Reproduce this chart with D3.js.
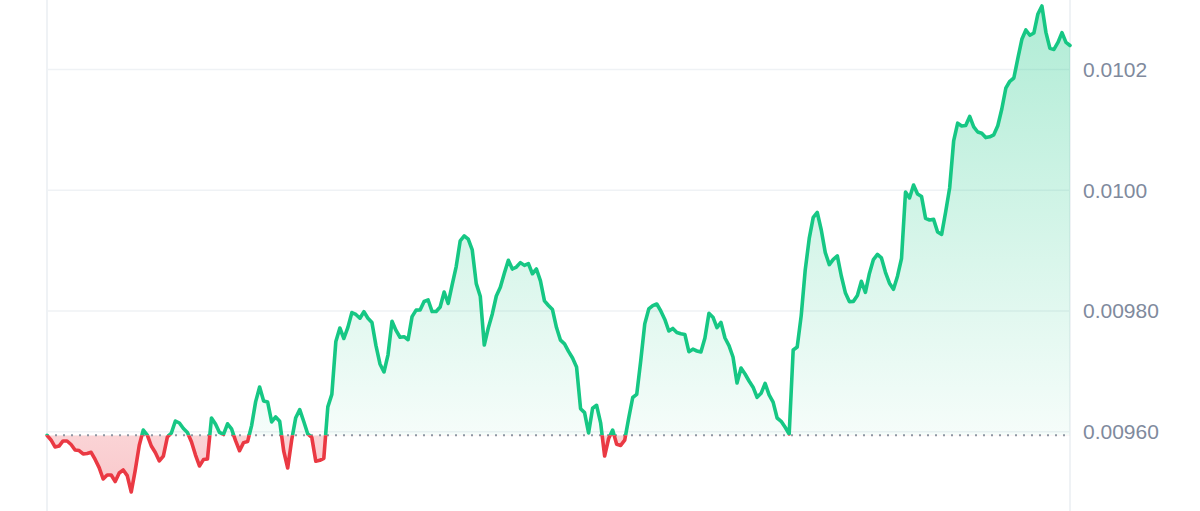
<!DOCTYPE html>
<html>
<head>
<meta charset="utf-8">
<script src="https://cdn.jsdelivr.net/npm/d3@7"></script>
<style>
  html, body { margin: 0; padding: 0; background: #ffffff; }
  svg { display: block; }
</style>
</head>
<body>
<svg id="chart" width="1200" height="511"></svg>
<script>
// Price samples (evenly spaced over the period)
const prices = [
0.0095940,0.0095863,0.0095747,0.0095763,0.0095846,0.0095846,0.0095788,0.0095697,0.0095687,0.0095631,
0.0095639,0.0095659,0.0095540,0.0095405,0.0095216,0.0095283,0.0095283,0.0095175,0.0095316,0.0095366,
0.0095273,0.0095001,0.0095364,0.0095776,0.0096028,0.0095945,0.0095763,0.0095655,0.0095515,0.0095597,
0.0095912,0.0095978,0.0096177,0.0096144,0.0096053,0.0095987,0.0095834,0.0095617,0.0095432,0.0095538,
0.0095548,0.0096227,0.0096128,0.0095987,0.0095954,0.0096131,0.0096046,0.0095851,0.0095685,0.0095819,
0.0095836,0.0096101,0.0096494,0.0096741,0.0096509,0.0096492,0.0096161,0.0096244,0.0096172,0.0095680,
0.0095399,0.0095866,0.0096232,0.0096366,0.0096169,0.0095962,0.0095906,0.0095510,0.0095525,0.0095559,
0.0096412,0.0096618,0.0097494,0.0097718,0.0097544,0.0097728,0.0097973,0.0097942,0.0097880,0.0097988,
0.0097880,0.0097809,0.0097425,0.0097122,0.0096989,0.0097274,0.0097829,0.0097678,0.0097565,0.0097574,
0.0097524,0.0097907,0.0098014,0.0098016,0.0098157,0.0098182,0.0097990,0.0097991,0.0098066,0.0098314,
0.0098124,0.0098437,0.0098735,0.0099162,0.0099244,0.0099189,0.0099010,0.0098453,0.0098245,0.0097436,
0.0097718,0.0097950,0.0098248,0.0098391,0.0098624,0.0098839,0.0098695,0.0098728,0.0098801,0.0098755,
0.0098785,0.0098617,0.0098695,0.0098498,0.0098168,0.0098091,0.0098023,0.0097725,0.0097516,0.0097456,
0.0097330,0.0097221,0.0097073,0.0096381,0.0096316,0.0095978,0.0096388,0.0096437,0.0096147,0.0095597,
0.0095887,0.0096028,0.0095791,0.0095773,0.0095859,0.0096224,0.0096567,0.0096618,0.0097176,0.0097786,
0.0098033,0.0098087,0.0098115,0.0098000,0.0097860,0.0097668,0.0097711,0.0097643,0.0097622,0.0097610,
0.0097325,0.0097367,0.0097337,0.0097320,0.0097552,0.0097960,0.0097897,0.0097723,0.0097811,0.0097552,
0.0097426,0.0097237,0.0096807,0.0097055,0.0096956,0.0096840,0.0096737,0.0096570,0.0096636,0.0096800,
0.0096611,0.0096489,0.0096227,0.0096172,0.0096073,0.0095962,0.0097353,0.0097403,0.0097923,0.0098679,
0.0099202,0.0099550,0.0099631,0.0099341,0.0098967,0.0098768,0.0098856,0.0098911,0.0098579,0.0098303,
0.0098155,0.0098159,0.0098255,0.0098492,0.0098309,0.0098622,0.0098851,0.0098937,0.0098878,0.0098641,
0.0098460,0.0098359,0.0098576,0.0098869,0.0099971,0.0099872,0.0100087,0.0099938,0.0099895,0.0099535,
0.0099507,0.0099517,0.0099308,0.0099269,0.0099640,0.0100037,0.0100816,0.0101111,0.0101064,0.0101073,
0.0101222,0.0101051,0.0100965,0.0100943,0.0100872,0.0100885,0.0100918,0.0101068,0.0101346,0.0101690,
0.0101805,0.0101859,0.0102186,0.0102500,0.0102655,0.0102567,0.0102605,0.0102920,0.0103052,0.0102615,
0.0102350,0.0102333,0.0102448,0.0102610,0.0102449,0.0102398
];
const tickValues = [0.0096, 0.0098, 0.0100, 0.0102];
const baseline = prices[0];

const W = 1200, H = 511;
const svg = d3.select("#chart");

const x = d3.scaleLinear().domain([0, prices.length - 1]).range([47, 1070]);
const y = d3.scaleLinear().domain(d3.extent(prices)).range([492, 6]);
const baseY = y(baseline);
const fmt = d3.format(".3r");

const defs = svg.append("defs");
defs.append("clipPath").attr("id", "clipAbove")
  .append("rect").attr("x", 0).attr("y", 0).attr("width", W).attr("height", baseY);
defs.append("clipPath").attr("id", "clipBelow")
  .append("rect").attr("x", 0).attr("y", baseY).attr("width", W).attr("height", H - baseY);

const gGreen = defs.append("linearGradient").attr("id", "gradGreen")
  .attr("gradientUnits", "userSpaceOnUse")
  .attr("x1", 0).attr("x2", 0).attr("y1", y.range()[1]).attr("y2", baseY);
gGreen.append("stop").attr("offset", "0%").attr("stop-color", "#16c784").attr("stop-opacity", 0.34);
gGreen.append("stop").attr("offset", "100%").attr("stop-color", "#16c784").attr("stop-opacity", 0.04);

const gRed = defs.append("linearGradient").attr("id", "gradRed")
  .attr("gradientUnits", "userSpaceOnUse")
  .attr("x1", 0).attr("x2", 0).attr("y1", baseY).attr("y2", y.range()[0]);
gRed.append("stop").attr("offset", "0%").attr("stop-color", "#ea3943").attr("stop-opacity", 0.22);
gRed.append("stop").attr("offset", "100%").attr("stop-color", "#ea3943").attr("stop-opacity", 0.28);

// grid
svg.append("g").selectAll("line").data(tickValues).join("line")
  .attr("x1", x.range()[0]).attr("x2", x.range()[1])
  .attr("y1", d => y(d)).attr("y2", d => y(d))
  .attr("stroke", "#eff2f5").attr("stroke-width", 1.5);

// vertical borders
svg.append("g").selectAll("line").data(x.range()).join("line")
  .attr("x1", d => d).attr("x2", d => d)
  .attr("y1", 0).attr("y2", H)
  .attr("stroke", "#eff2f5").attr("stroke-width", 2);

const area = d3.area().x((d, i) => x(i)).y0(baseY).y1(d => y(d));
const line = d3.line().x((d, i) => x(i)).y(d => y(d));

svg.append("path").datum(prices).attr("d", area)
  .attr("fill", "url(#gradGreen)").attr("clip-path", "url(#clipAbove)");
svg.append("path").datum(prices).attr("d", area)
  .attr("fill", "url(#gradRed)").attr("clip-path", "url(#clipBelow)");

// baseline
svg.append("line")
  .attr("x1", x.range()[0]).attr("x2", x.range()[1])
  .attr("y1", baseY).attr("y2", baseY)
  .attr("stroke", "#8f96a3").attr("stroke-width", 2)
  .attr("stroke-dasharray", "2,6");

svg.append("path").datum(prices).attr("d", line)
  .attr("fill", "none").attr("stroke", "#16c784").attr("stroke-width", 3.6)
  .attr("stroke-linejoin", "round").attr("stroke-linecap", "round")
  .attr("clip-path", "url(#clipAbove)");
svg.append("path").datum(prices).attr("d", line)
  .attr("fill", "none").attr("stroke", "#ea3943").attr("stroke-width", 3.6)
  .attr("stroke-linejoin", "round").attr("stroke-linecap", "round")
  .attr("clip-path", "url(#clipBelow)");

// y labels on the right
svg.append("g").selectAll("text").data(tickValues).join("text")
  .attr("x", 1083).attr("y", d => y(d))
  .attr("dy", "0.35em")
  .attr("font-family", "'Liberation Sans', Arial, Helvetica, sans-serif")
  .attr("font-size", 21)
  .attr("fill", "#808a9d")
  .text(d => fmt(d));
</script>
</body>
</html>
